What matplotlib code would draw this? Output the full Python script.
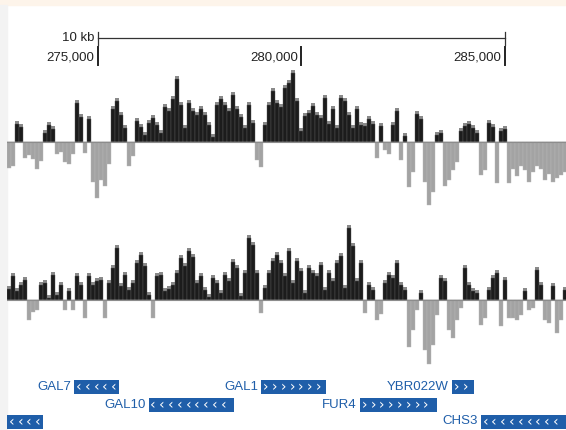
import numpy as np
import matplotlib
matplotlib.use('Agg')
import matplotlib.pyplot as plt
from matplotlib.patches import Rectangle

plt.rcParams['font.family'] = ['Liberation Sans', 'DejaVu Sans']

# binned signal (one value per ~98 bp bin), upper and lower track
bin_start = 272776
bin_bp = 98.3
track1 = [-26, -24, 21, 18, -16, -13, -17, -27, -19, 12, 20, 16, -12, -10, -20, -22, -12, 42, 28, -11,
          26, -40, -56, -38, -44, -22, 36, 44, 30, 17, -24, -14, 24, 18, 10, 22, 27, 20, 12, 38,
          34, 46, 66, 40, 17, 42, 34, 30, 36, 30, 20, 8, 40, 46, 40, 34, 50, 36, 28, 17,
          40, 22, -18, -25, 20, 40, 54, 42, 38, 57, 62, 72, 44, 14, 29, 32, 39, 30, 27, 47,
          21, 36, 17, 47, 44, 30, 17, 36, 20, 19, 26, 21, -16, 19, -8, -12, 20, 34, -18, 9,
          -45, -30, 31, 26, -40, -63, -50, 10, 12, -44, -38, -28, -20, 14, 19, 21, 17, 12, -33, -28,
          22, 18, -41, 14, 16, -41, -27, -34, -24, -28, -40, -30, -24, -27, -38, -32, -40, -36, -33, -30]
track2 = [14, 27, 12, 18, 23, -20, -12, -10, 18, 20, 5, 28, 8, 18, -10, 12, -10, 27, 18, -18,
          27, 18, 22, 23, -18, 20, 35, 55, 17, 28, 13, 20, 40, 48, 37, 8, -18, 27, 28, 12,
          14, 18, 30, 45, 37, 52, 46, 20, 27, 13, 6, 25, 20, 10, 28, 22, 41, 35, 7, 30,
          65, 58, 30, -13, 15, 30, 42, 48, 40, 27, 52, 20, 42, 32, 10, 35, 30, 27, 38, 13,
          30, 22, 40, 47, 15, 75, 57, 22, 40, -13, 18, 13, -20, -14, 20, 28, 25, 40, 18, 13,
          -47, -30, -10, 10, -50, -64, -45, -15, 25, 22, -30, -38, -20, -8, 35, 18, 12, 10, -25, -18,
          13, 25, 30, -26, 23, -18, -18, -20, -15, 12, -10, -8, 33, 18, -20, -23, 17, -33, -20, 13]

# genes: name, start, end, strand, row
gene_names = ['', 'GAL7', 'GAL10', 'GAL1', 'FUR4', 'YBR022W', 'CHS3']
gene_starts = [270200, 274427, 276253, 279021, 281443, 283710, 284416]
gene_ends = [273660, 275525, 278352, 280607, 283344, 284242, 287913]
gene_strands = ['-', '-', '-', '+', '+', '+', '-']
gene_rows = [2, 0, 1, 0, 1, 0, 2]

scale_ticks = [275000, 280000, 285000]

W, H = 566, 430
x0, x1 = 272776, 286511
blue = '#1f5ea9'

fig = plt.figure(figsize=(W / 100, H / 100), dpi=100)
fig.patches.append(Rectangle((0, 1 - 5 / H), 1, 5 / H, transform=fig.transFigure,
                             color='#fdf4ea', zorder=-5))
fig.patches.append(Rectangle((0, 0), 7 / W, 1 - 5 / H, transform=fig.transFigure,
                             color='#f3f3f3', zorder=-5))


def px_axes(top, bottom):
    return fig.add_axes([7 / W, 1 - bottom / H, (W - 7) / W, (bottom - top) / H])


# annotation layer: genomic x, pixel y
ann = px_axes(0, H)
ann.set_xlim(x0, x1)
ann.set_ylim(H, 0)
ann.axis('off')
ann.patch.set_alpha(0)

# 10 kb scale bar
ann.plot([275000, 285000], [38, 38], color='#333333', lw=0.9)
for p in [275000, 285000]:
    ann.plot([p, p], [32, 45], color='#333333', lw=0.9)
ann.annotate('10 kb', (275000, 38), xytext=(-3, 0), textcoords='offset pixels',
             ha='right', va='center', fontsize=9.5, color='#222222')
for p in scale_ticks:
    ann.plot([p, p], [47, 65], color='#222222', lw=1.4)
    ann.annotate(f'{p:,}', (p, 57), xytext=(-3, 0), textcoords='offset pixels',
                 ha='right', va='center', fontsize=9.5, color='#222222')

# gene models
row_y = [386.5, 404.5, 421.5]
bp_per_px = 1000 / 40.7
for name, s, e, strand, r in zip(gene_names, gene_starts, gene_ends, gene_strands, gene_rows):
    y = row_y[r]
    ann.add_patch(Rectangle((s, y - 7), e - s, 14, color=blue, lw=0))
    c = max(s, x0) + 4.5 * bp_per_px
    while c < min(e, x1) - 3 * bp_per_px:
        ann.text(c, y, '‹' if strand == '-' else '›', color='white', fontsize=10,
                 ha='center', va='center', family='DejaVu Sans')
        c += 8.8 * bp_per_px
    if name:
        ann.annotate(name, (s, y), xytext=(-3, 0), textcoords='offset pixels',
                     ha='right', va='center', fontsize=9.5, color=blue)

# signal tracks
lefts = bin_start + bin_bp * np.arange(len(track1))


def draw_track(ax, vals, lo, hi):
    vals = np.array(vals, dtype=float)
    pos = np.where(vals > 0, vals, 0)
    neg = np.where(vals < 0, vals, 0)
    # gray envelope, then dark core a few pixels shorter
    ax.bar(lefts, pos, width=bin_bp, align='edge', color='#8a8a8a', linewidth=0)
    ax.bar(lefts, np.clip(pos - 3, 0, None), width=bin_bp, align='edge', color='#1c1c1c',
           edgecolor='#5a5a5a', linewidth=0.3)
    ax.bar(lefts, neg, width=bin_bp, align='edge', color='#a3a3a3',
           edgecolor='#b8b8b8', linewidth=0.3)
    ax.axhline(0, color='#8c8c8c', lw=0.8)
    ax.set_xlim(x0, x1)
    ax.set_ylim(lo, hi)
    ax.axis('off')


ax1 = px_axes(65, 210)
draw_track(ax1, track1, -68, 77)
ax2 = px_axes(218, 370)
draw_track(ax2, track2, -70, 82)

fig.savefig('out.png', dpi=100)
